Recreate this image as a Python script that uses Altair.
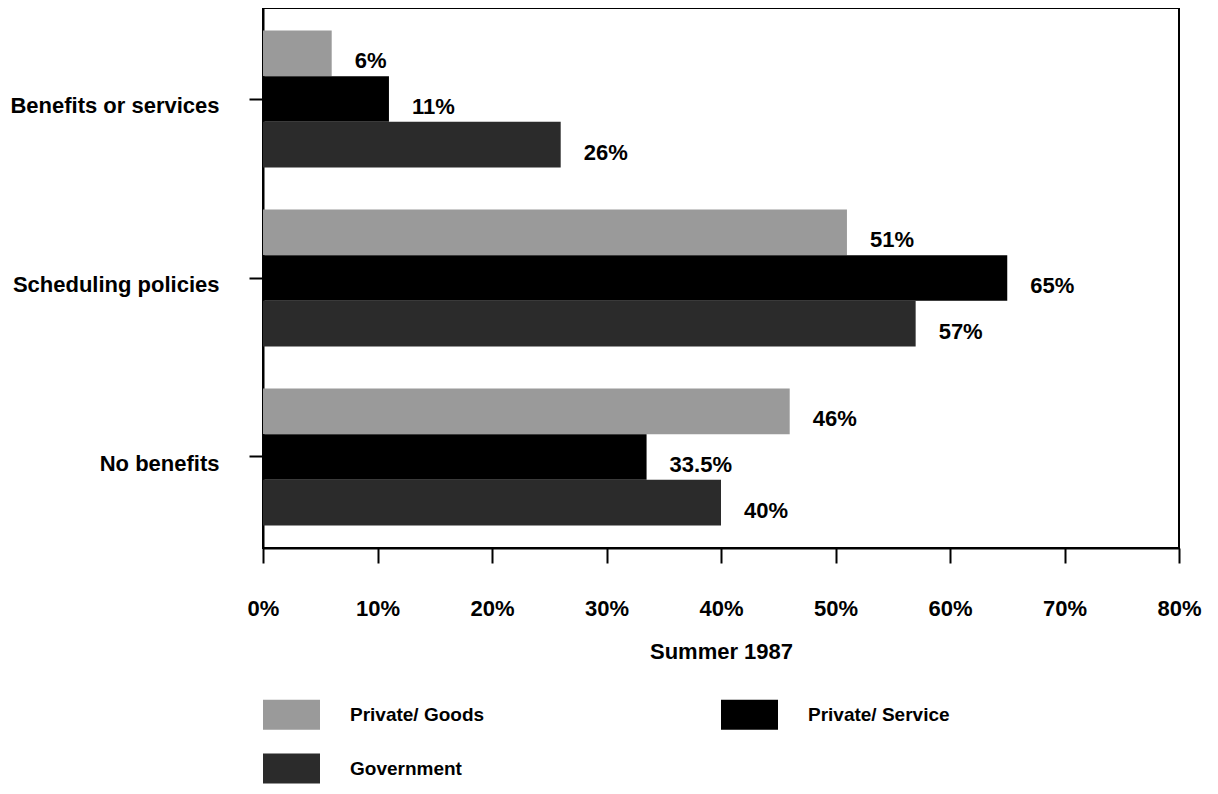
import altair as alt
import pandas as pd

categories = ["Benefits or services", "Scheduling policies", "No benefits"]
series = ["Private/ Goods", "Private/ Service", "Government"]
goods = [6, 51, 46]
service = [11, 65, 33.5]
government = [26, 57, 40]
x_ticks = [0, 10, 20, 30, 40, 50, 60, 70, 80]
colors = ["#9a9a9a", "#000000", "#2b2b2b"]

FONT = "Liberation Sans"

rows = []
for i, c in enumerate(categories):
    for s, vals in zip(series, [goods, service, government]):
        rows.append({"category": c, "series": s, "value": vals[i], "label": f"{vals[i]:g}%"})
df = pd.DataFrame(rows)

y = alt.Y(
    "category:N",
    sort=categories,
    scale=alt.Scale(paddingInner=0.235, paddingOuter=0.126),
    axis=alt.Axis(
        title=None,
        labelFont=FONT,
        labelFontSize=22,
        labelFontWeight="bold",
        labelColor="black",
        labelPadding=30,
        labelOffset=7,
        labelLimit=400,
        tickSize=14,
        tickColor="black",
        tickWidth=2,
        domainColor="black",
        domainWidth=2,
    ),
)
yoff = alt.YOffset("series:N", sort=series, scale=alt.Scale(paddingInner=0, paddingOuter=0))
x = alt.X(
    "value:Q",
    scale=alt.Scale(domain=[0, 80], nice=False),
    axis=alt.Axis(
        values=x_ticks,
        labelExpr="datum.value + '%'",
        labelFlush=False,
        title="Summer 1987",
        titleFont=FONT,
        titleFontSize=22,
        titleFontWeight="bold",
        titleColor="black",
        titlePadding=22,
        labelFont=FONT,
        labelFontSize=22,
        labelFontWeight="bold",
        labelColor="black",
        labelPadding=35,
        tickSize=15,
        tickColor="black",
        tickWidth=2,
        domainColor="black",
        domainWidth=2,
        grid=False,
    ),
)

bars = alt.Chart(df).mark_bar(opacity=1, strokeWidth=0).encode(
    x=x,
    y=y,
    yOffset=yoff,
    color=alt.Color(
        "series:N",
        scale=alt.Scale(domain=series, range=colors),
        legend=alt.Legend(
            title=None,
            orient="none",
            legendX=0,
            legendY=678,
            columns=2,
            direction="horizontal",
            columnPadding=236,
            rowPadding=10,
            padding=0,
            symbolType="M-1,-0.526H1V0.526H-1Z",
            symbolSize=3249,
            symbolStrokeWidth=0,
            symbolOpacity=1,
            labelFont=FONT,
            labelFontSize=19,
            labelFontWeight="bold",
            labelColor="black",
            labelOffset=30,
            labelLimit=400,
        ),
    ),
)

labels = alt.Chart(df).mark_text(
    align="left", baseline="middle", dx=23, dy=8,
    font=FONT, fontSize=22, fontWeight="bold", color="black",
).encode(x="value:Q", y=alt.Y("category:N", sort=categories), yOffset=yoff, text="label:N")

chart = alt.layer(bars, labels).properties(
    width=916,
    height=540,
    padding={"left": 255, "top": 0, "right": 28, "bottom": 238},
    autosize=alt.AutoSizeParams(type="none"),
).configure_view(stroke="black", strokeWidth=2)

chart.save("out.html", embed_options={"renderer": "svg", "actions": False})
